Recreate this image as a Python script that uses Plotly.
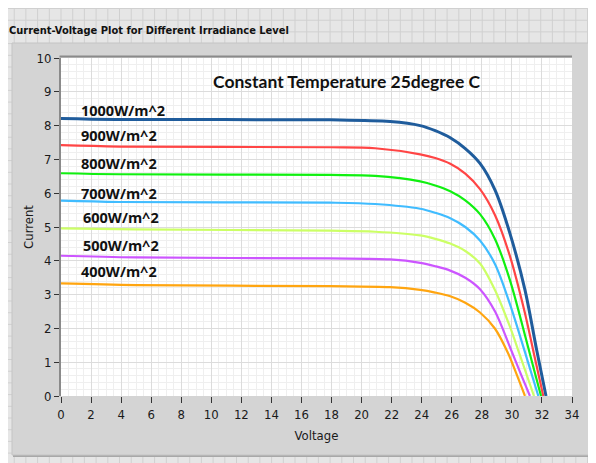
import plotly.graph_objects as go

# ---- data ----
labels = ["1000W/m^2", "900W/m^2", "800W/m^2", "700W/m^2", "600W/m^2", "500W/m^2", "400W/m^2"]
v1000 = [0, 3.7, 17.9, 21.9, 23.9, 24.9, 25.9, 26.9, 27.88, 28.88, 29.87, 30.87, 31.65, 32.27]
i1000 = [8.21, 8.18, 8.17, 8.12, 8.0, 7.85, 7.64, 7.32, 6.88, 6.09, 4.81, 3.14, 1.36, 0]
v900 = [0, 3.9, 17.9, 20.9, 23.9, 24.9, 25.9, 26.9, 27.88, 28.88, 29.87, 30.87, 31.54, 32.09]
i900 = [7.42, 7.38, 7.36, 7.33, 7.15, 7.04, 6.87, 6.58, 6.12, 5.35, 4.14, 2.45, 1.1, 0]
v800 = [0, 3.9, 17.9, 20.9, 23.9, 24.9, 25.9, 26.9, 27.88, 28.88, 29.87, 30.87, 31.4, 31.94]
i800 = [6.59, 6.56, 6.54, 6.51, 6.35, 6.23, 6.06, 5.79, 5.38, 4.64, 3.43, 1.8, 0.9, 0]
v700 = [0, 3.9, 17.9, 20.9, 23.9, 24.9, 25.9, 26.9, 27.88, 28.88, 29.87, 30.87, 31.76]
i700 = [5.78, 5.74, 5.72, 5.68, 5.54, 5.42, 5.26, 5.0, 4.6, 3.9, 2.72, 1.3, 0]
v600 = [0, 5.0, 17.9, 20.9, 23.9, 24.9, 25.9, 26.9, 27.88, 28.88, 29.87, 30.54, 31.47]
i600 = [4.96, 4.93, 4.89, 4.86, 4.75, 4.65, 4.51, 4.29, 3.92, 3.13, 2.05, 1.2, 0]
v500 = [0, 5.0, 17.9, 21.9, 23.9, 24.9, 25.9, 26.9, 27.88, 28.88, 29.87, 30.55, 31.2]
i500 = [4.15, 4.10, 4.07, 4.04, 3.94, 3.84, 3.71, 3.5, 3.16, 2.5, 1.45, 0.7, 0]
v400 = [0, 5.0, 17.9, 21.9, 23.9, 24.9, 25.9, 26.9, 27.88, 28.88, 29.74, 30.35, 30.87]
i400 = [3.33, 3.28, 3.25, 3.22, 3.14, 3.06, 2.95, 2.76, 2.47, 1.99, 1.27, 0.6, 0]

# label anchor positions (data coords)
label_x = [1.2, 1.2, 1.2, 1.2, 1.35, 1.35, 1.2]
label_y = [8.46, 7.72, 6.89, 5.98, 5.27, 4.44, 3.67]

xticks = list(range(0, 35, 2))
yticks = list(range(0, 11))

series_v = [v1000, v900, v800, v700, v600, v500, v400]
series_i = [i1000, i900, i800, i700, i600, i500, i400]
colors = ["#1f5c9c", "#ff4545", "#10f010", "#40bcff", "#ccff66", "#cc55ff", "#ffa510"]
widths = [3, 2.2, 2.2, 2.2, 2.2, 2.2, 2.2]

NARROW = "DejaVu Sans Condensed, Liberation Sans Narrow, sans-serif"

fig = go.Figure()
for v, i, c, w, name in zip(series_v, series_i, colors, widths, labels):
    fig.add_trace(go.Scatter(x=v, y=i, mode="lines", name=name,
                             line=dict(color=c, width=w, shape="spline", smoothing=0.9),
                             showlegend=False, hoverinfo="skip"))

# page adds an 8px body margin, so the figure is offset by 8px; compensate
OFF = 8
W, H = 596 - OFF, 463 - OFF
L, R, T, B = 61 - OFF, 24, 58 - OFF, 67
pw, ph = W - L - R, H - T - B

def px(x):
    # x in reference screen pixels -> paper coords
    return (x - OFF - L) / pw

def py(y):
    return (H - B - (y - OFF)) / ph

shapes = []
# page background grid (LabVIEW front panel)
path = ""
gx = 2.5
while gx < 600:
    path += f"M{px(gx):.5f},{py(0):.5f}L{px(gx):.5f},{py(470):.5f}"
    gx += 11.7
gy = 8.5
while gy < 470:
    path += f"M{px(0):.5f},{py(gy):.5f}L{px(600):.5f},{py(gy):.5f}"
    gy += 11.7
shapes.append(dict(type="path", xref="paper", yref="paper", path=path,
                   line=dict(color="#d0d0d0", width=1), layer="below"))
# panel shadow + panel
shapes.append(dict(type="rect", xref="paper", yref="paper", x0=px(13), x1=px(592), y0=py(44), y1=py(457),
                   fillcolor="#a8a8a8", line=dict(width=0), layer="below"))
shapes.append(dict(type="rect", xref="paper", yref="paper", x0=px(12), x1=px(590), y0=py(43), y1=py(455),
                   fillcolor="#d4d4d4", line=dict(color="#c4c4c4", width=1), layer="below"))
# plot background + sunken frame
shapes.append(dict(type="rect", xref="paper", yref="paper", x0=0, x1=1, y0=0, y1=1,
                   fillcolor="white", line=dict(width=0), layer="below"))
shapes.append(dict(type="line", xref="paper", yref="paper", x0=px(59.5), x1=1, y0=py(56.5), y1=py(56.5),
                   line=dict(color="#8a8a8a", width=2), layer="above"))

fig.update_layout(
    width=W, height=H,
    margin=dict(l=L, r=R, t=T, b=B, autoexpand=False),
    paper_bgcolor="#e6e6e6",
    plot_bgcolor="white",
    shapes=shapes,
    font=dict(family=NARROW, color="#1a1a1a", size=12),
)

fig.update_xaxes(range=[0, 34], tickvals=xticks, ticktext=[str(t) for t in xticks],
                 showgrid=True, gridcolor="#dcdcdc", gridwidth=1,
                 minor=dict(dtick=0.5, showgrid=True, gridcolor="#efefef", gridwidth=1),
                 ticks="outside", ticklen=6, tickcolor="#333333", tickwidth=1,
                 tickfont=dict(family=NARROW, size=13, color="#1a1a1a"),
                 showline=False, zeroline=False, automargin=False,
                 title=dict(text="Voltage", font=dict(family=NARROW, size=13, color="#1a1a1a"), standoff=10))
fig.update_yaxes(range=[0, 10], tickvals=yticks, ticktext=[str(t) for t in yticks],
                 showgrid=True, gridcolor="#dcdcdc", gridwidth=1,
                 minor=dict(dtick=0.2, showgrid=True, gridcolor="#efefef", gridwidth=1),
                 ticks="outside", ticklen=5, tickcolor="#333333", tickwidth=1,
                 tickfont=dict(family=NARROW, size=13, color="#1a1a1a"),
                 showline=True, linecolor="#8a8a8a", linewidth=2, zeroline=False, automargin=False,
                 title=dict(text="Current", font=dict(family=NARROW, size=13, color="#1a1a1a"), standoff=0))

annotations = []
for lx, ly, t in zip(label_x, label_y, labels):
    annotations.append(dict(x=lx, y=ly, xref="x", yref="y", text=f"<b>{t}</b>", showarrow=False,
                            xanchor="left", yanchor="middle",
                            font=dict(family="Open Sans, sans-serif", size=14.5, color="#111111")))
annotations.append(dict(x=19.0, y=9.3, xref="x", yref="y", text="<b>Constant Temperature 25degree C</b>",
                        showarrow=False, xanchor="center", yanchor="middle",
                        font=dict(family="Lato, sans-serif", size=17.5, color="#111111")))
annotations.append(dict(x=px(7), y=py(30), xref="paper", yref="paper",
                        text="<b>Current-Voltage Plot for Different Irradiance Level</b>", showarrow=False,
                        xanchor="left", yanchor="middle",
                        font=dict(family=NARROW, size=11, color="#111111")))
fig.update_layout(annotations=annotations)

fig.write_html("out.html")
